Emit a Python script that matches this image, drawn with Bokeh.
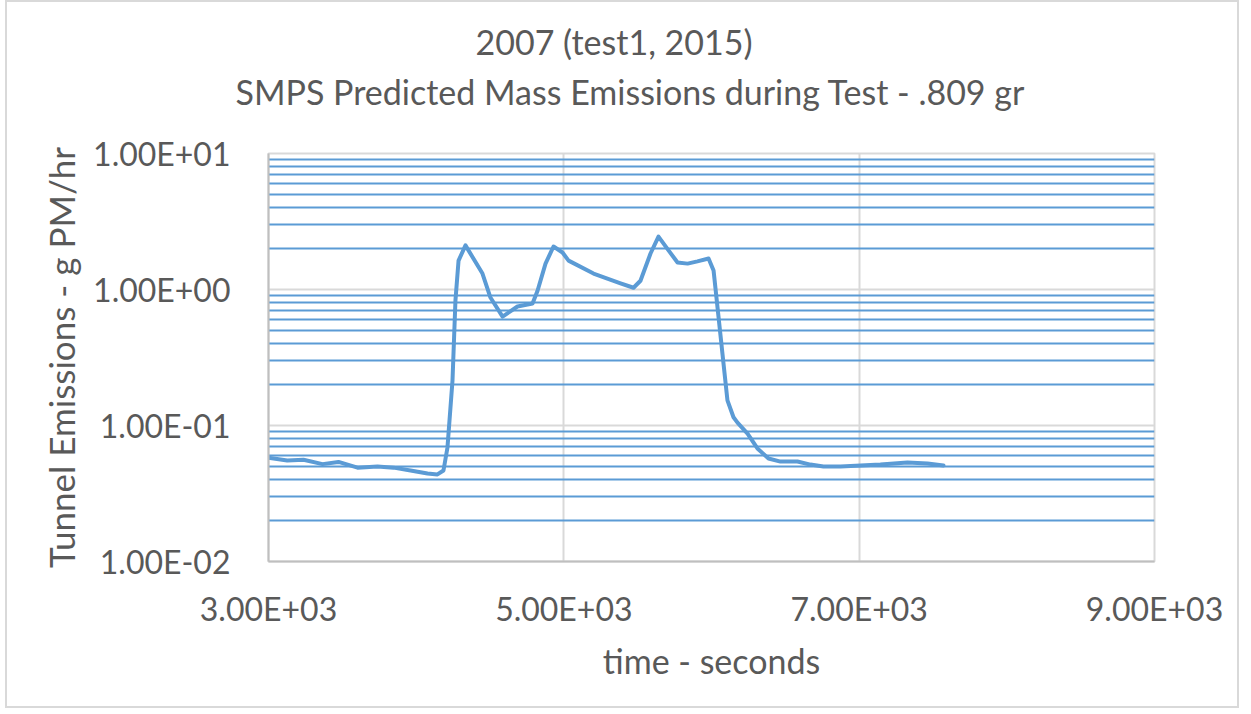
from bokeh.plotting import figure
from bokeh.models import (ColumnDataSource, FixedTicker, Grid, Title, CustomJSTickFormatter, Range1d)
from bokeh.embed import file_html
from bokeh.resources import INLINE

# ---- data ----
time_s = [3000, 3127, 3237, 3366, 3474, 3603, 3738, 3847, 3962, 4077, 4144, 4185, 4212, 4246,
          4266, 4287, 4334, 4449, 4503, 4585, 4686, 4788, 4822, 4876, 4930, 4991, 5032, 5201,
          5384, 5472, 5519, 5587, 5641, 5709, 5770, 5838, 5905, 5980, 6014, 6074, 6108, 6149,
          6176, 6244, 6311, 6386, 6467, 6582, 6670, 6758, 6874, 7009, 7144, 7327, 7463, 7571]
emissions = [0.058, 0.0553, 0.056, 0.052, 0.054, 0.049, 0.050, 0.049, 0.0467, 0.0443, 0.0437,
             0.0467, 0.0689, 0.214, 0.83, 1.63, 2.11, 1.31, 0.873, 0.632, 0.75, 0.789, 0.98,
             1.55, 2.07, 1.87, 1.63, 1.31, 1.11, 1.03, 1.16, 1.84, 2.45, 1.94, 1.58, 1.55, 1.61,
             1.69, 1.38, 0.338, 0.153, 0.115, 0.105, 0.0873, 0.0678, 0.0572, 0.0543, 0.0543,
             0.0516, 0.050, 0.050, 0.0508, 0.0516, 0.0534, 0.0526, 0.0508]

x_ticks = [3000, 5000, 7000, 9000]
x_tick_labels = ["3.00E+03", "5.00E+03", "7.00E+03", "9.00E+03"]
y_ticks = [0.01, 0.1, 1, 10]
y_tick_labels = ["1.00E-02", "1.00E-01", "1.00E+00", "1.00E+01"]
y_minor = [m * d for d in (0.01, 0.1, 1) for m in range(2, 10)]

title_1 = "2007 (test1, 2015)"
title_2 = "SMPS Predicted Mass Emissions during Test - .809 gr"
x_title = "time - seconds"
y_title = "Tunnel Emissions - g PM/hr"

FONT = "Lato"
TXT = "#595959"
BLUE = "#5b9bd5"
GRID = "#d9d9d9"

src = ColumnDataSource(dict(t=time_s, e=emissions))

p = figure(width=1234, height=708, y_axis_type="log", output_backend="svg",
           toolbar_location=None, x_range=Range1d(3000, 9000), y_range=Range1d(0.01, 10),
           min_border_left=261, min_border_right=87, min_border_top=151, min_border_bottom=149)
p.background_fill_color = "white"
p.border_fill_color = "white"
p.outline_line_color = GRID
p.outline_line_width = 2
p.styles = {"border": "2px solid #d9d9d9", "margin-left": "5px"}

def fmt(vals, labs):
    return CustomJSTickFormatter(args=dict(vals=vals, labs=labs), code="""
        let best = 0, bd = Infinity;
        for (let i = 0; i < vals.length; i++) {
            const d = Math.abs(Math.log(Math.abs(tick) + 1e-30) - Math.log(Math.abs(vals[i]) + 1e-30));
            if (d < bd) { bd = d; best = i; }
        }
        return labs[best];
    """)

p.xaxis.ticker = FixedTicker(ticks=x_ticks)
p.xaxis.formatter = fmt(x_ticks, x_tick_labels)
p.yaxis.ticker = FixedTicker(ticks=y_ticks)
p.yaxis.formatter = fmt(y_ticks, y_tick_labels)

for ax in (p.xaxis[0], p.yaxis[0]):
    ax.axis_line_color = "#bfbfbf"
    ax.axis_line_width = 2
    ax.major_tick_line_color = None
    ax.minor_tick_line_color = None
    ax.major_label_text_font = FONT
    ax.major_label_text_font_size = "32px"
    ax.major_label_text_color = TXT
    ax.axis_label_text_font = FONT
    ax.axis_label_text_color = TXT
    ax.axis_label_text_font_style = "normal"

p.xaxis.axis_label = x_title
p.yaxis.axis_label = y_title
p.xaxis.axis_label_text_font_size = "34px"
p.yaxis.axis_label_text_font_size = "35px"
p.xaxis.major_label_standoff = 21
p.xaxis.axis_label_standoff = 9
p.yaxis.major_label_standoff = 32
p.yaxis.axis_label_standoff = 8

# grids
p.xgrid.ticker = FixedTicker(ticks=x_ticks)
p.xgrid.grid_line_color = GRID
p.xgrid.grid_line_width = 2
p.ygrid.ticker = FixedTicker(ticks=y_ticks)
p.ygrid.grid_line_color = GRID
p.ygrid.grid_line_width = 2
minor_grid = Grid(dimension=1, ticker=FixedTicker(ticks=y_minor),
                  grid_line_color=BLUE, grid_line_width=2)
p.add_layout(minor_grid)

# data
p.line("t", "e", source=src, line_color=BLUE, line_width=4, line_join="round", line_cap="round")

# titles
p.title.visible = False
p.add_layout(Title(text=title_2, align="left", offset=-33, standoff=84,
                   text_font=FONT, text_font_size="34px", text_color=TXT,
                   text_font_style="normal"), "above")
p.add_layout(Title(text=title_1, align="left", offset=207, standoff=-70,
                   text_font=FONT, text_font_size="34px", text_color=TXT,
                   text_font_style="normal"), "above")

open("out.html", "w").write(file_html(p, INLINE))
